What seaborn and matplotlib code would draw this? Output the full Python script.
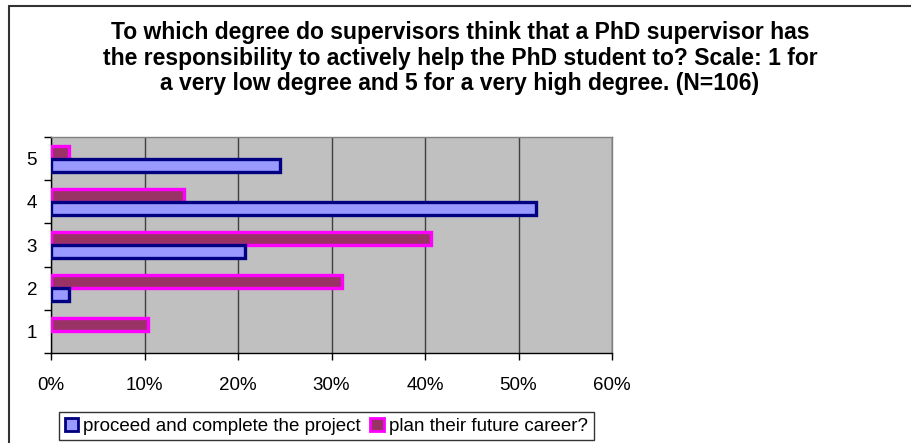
import matplotlib
matplotlib.use("Agg")
import matplotlib.pyplot as plt
import seaborn as sns
import pandas as pd
from matplotlib.lines import Line2D
from matplotlib.patches import Patch
from matplotlib.ticker import FixedLocator, PercentFormatter

# ---- data (percent of respondents, N=106) ----
categories = ["5", "4", "3", "2", "1"]
series_names = ["proceed and complete the project", "plan their future career?"]
proceed_vals = [24.5, 51.9, 20.8, 1.9, 0.0]
career_vals = [1.9, 14.2, 40.6, 31.1, 10.4]
x_ticks = [0, 10, 20, 30, 40, 50, 60]
title = ("To which degree do supervisors think that a PhD supervisor has\n"
         "the responsibility to actively help the PhD student to? Scale: 1 for\n"
         "a very low degree and 5 for a very high degree. (N=106)")

df = pd.DataFrame({
    "category": categories * 2,
    "series": [series_names[0]] * 5 + [series_names[1]] * 5,
    "value": proceed_vals + career_vals,
})

fills = {series_names[0]: "#9999FF", series_names[1]: "#993366"}
edges = {series_names[0]: "#000080", series_names[1]: "#FF00FF"}

sns.set_theme(style="white")
plt.rcParams["font.family"] = ["Liberation Sans", "DejaVu Sans"]
plt.rcParams["text.color"] = "black"
plt.rcParams["xtick.color"] = "black"
plt.rcParams["ytick.color"] = "black"
plt.rcParams["axes.labelcolor"] = "black"

W, H = 912, 443
fig = plt.figure(figsize=(W / 100, H / 100), dpi=100)
ax = fig.add_axes([51 / W, 1 - 353 / H, 561 / W, 216 / H])
ax.set_facecolor("#C0C0C0")

hue_order = [series_names[1], series_names[0]]
sns.barplot(data=df, x="value", y="category", hue="series", order=categories,
            hue_order=hue_order, orient="h", width=0.6, palette=fills,
            saturation=1, ax=ax, legend=False, zorder=3)

for cont, name in zip(ax.containers, hue_order):
    for p in cont:
        p.set_edgecolor(edges[name])
        p.set_linewidth(2.4 if p.get_width() > 0 else 0)

ax.set_xlim(0, 60)
ax.set_ylim(4.5, -0.5)
ax.xaxis.set_major_locator(FixedLocator(x_ticks))
ax.xaxis.set_major_formatter(PercentFormatter(decimals=0))
ax.grid(axis="x", color="#404040", linewidth=1.0, zorder=1)
ax.set_axisbelow(True)
ax.set_xlabel("")
ax.set_ylabel("")

ax.yaxis.set_minor_locator(FixedLocator([-0.5, 0.5, 1.5, 2.5, 3.5, 4.5]))
ax.tick_params(axis="y", which="major", length=0, pad=10, labelsize=13.5, labelcolor="black")
ax.tick_params(axis="y", which="minor", length=5, width=1, color="black", direction="out", left=True)
ax.tick_params(axis="x", which="major", length=5, width=1, color="black", direction="out",
               bottom=True, pad=12, labelsize=13.5, labelcolor="black")

for side in ["left", "bottom"]:
    ax.spines[side].set_color("black")
    ax.spines[side].set_linewidth(1.0)
for side in ["top", "right"]:
    ax.spines[side].set_visible(True)
    ax.spines[side].set_color("#808080")
    ax.spines[side].set_linewidth(1.0)

fig.text(460 / W, 1 - 21 / H, title, ha="center", va="top", fontsize=16.5,
         fontweight="bold", linespacing=1.14, multialignment="center", color="black")

handles = [Patch(facecolor=fills[n], edgecolor=edges[n], linewidth=2.0) for n in series_names]
leg = fig.legend(handles, series_names, loc="upper left",
                 bbox_to_anchor=(59 / W, 1 - 412 / H), fontsize=13.5,
                 frameon=True, fancybox=False, handlelength=0.7, handleheight=0.7,
                 handletextpad=0.3, columnspacing=0.5, ncol=2, borderpad=0.3,
                 borderaxespad=0)
leg.get_frame().set_edgecolor("black")
leg.get_frame().set_linewidth(1.0)
for t in leg.get_texts():
    t.set_color("black")

# outer chart frame
fig.add_artist(Line2D([9 / W, 1], [1 - 6 / H, 1 - 6 / H], transform=fig.transFigure,
                      color="#333333", linewidth=1.5))
fig.add_artist(Line2D([9 / W, 9 / W], [0, 1 - 6 / H], transform=fig.transFigure,
                      color="#333333", linewidth=1.5))

fig.savefig("out.png", dpi=100, facecolor="white")
